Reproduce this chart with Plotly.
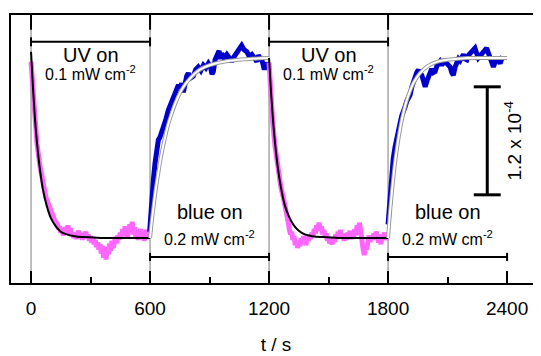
import plotly.graph_objects as go

# ---------------- data (absorbance change, units of 1e-4) ----------------
uv1_t = [0, 8, 18, 30, 45, 60, 75, 88, 98, 110, 120,
         132, 138, 144, 150, 156, 162, 168, 174, 180, 186, 192, 198, 204, 210, 216, 222, 228, 234,
         240, 246, 252, 258, 264, 270, 276, 282, 288, 294, 300, 306, 312, 318, 324, 330, 336, 342,
         348, 354, 360, 366, 372, 378, 384, 390, 396, 402, 408, 414, 420, 426, 432, 438, 444, 450,
         456, 462, 468, 474, 480, 486, 492, 498, 504, 510, 516, 522, 528, 534, 540, 546, 552, 558,
         564, 570, 576, 582, 588, 594, 600]
uv1_v = [1.96, 1.68, 1.35, 1.05, 0.80, 0.58, 0.45, 0.38, 0.32, 0.22, 0.19,
         0.16, 0.10, 0.13, 0.06, 0.09, 0.03, 0.08, 0.12, 0.05, 0.14,
         0.07, 0.11, 0.02, 0.06, 0.00, 0.05, -0.01, 0.04, 0.08, 0.01,
         0.05, -0.02, 0.06, 0.02, 0.07, 0.00, 0.04, -0.03, 0.02, -0.05,
         0.01, -0.07, -0.02, -0.10, -0.05, -0.13, -0.07, -0.17, -0.09, -0.22,
         -0.12, -0.24, -0.10, -0.18, -0.06, -0.14, -0.03, -0.11, -0.04, 0.01,
         -0.06, 0.03, -0.02, 0.06, 0.00, 0.10, 0.03, 0.13, 0.05, 0.00,
         0.09, 0.15, 0.07, 0.18, 0.04, 0.12, 0.01, 0.08, -0.02, 0.06,
         0.10, 0.00, 0.07, -0.03, 0.05, 0.09, 0.01, 0.06, 0.03]

fit_uv1_t = [0, 10, 20, 30, 45, 60, 80, 100, 125, 150, 180, 220, 270, 350, 450, 600]
fit_uv1_v = [2.07, 1.66, 1.32, 1.06, 0.76, 0.54, 0.35, 0.22, 0.13, 0.07, 0.04, 0.02, 0.01, 0.00, 0.00, 0.00]

blue1_t = [598, 608, 617, 625, 634, 642, 650, 658, 667, 680, 692, 705, 718, 730, 743, 752, 760, 768,
           777, 785, 793, 805, 818, 830, 843, 856, 869, 881, 894, 905, 912, 919, 928, 936, 948, 955,
           961, 974, 987, 1000, 1012, 1025, 1037, 1050, 1062, 1075, 1088, 1100, 1113, 1125, 1138,
           1146, 1155, 1165, 1176, 1185, 1190]
blue1_v = [0.07, 0.46, 0.65, 0.83, 0.98, 1.09, 1.12, 1.17, 1.20, 1.32, 1.42, 1.50, 1.57, 1.63, 1.70,
           1.66, 1.72, 1.62, 1.75, 1.80, 1.83, 1.78, 1.80, 1.87, 1.90, 1.86, 1.92, 1.89, 1.94, 1.90,
           1.82, 1.85, 1.98, 2.01, 2.08, 1.99, 2.05, 2.00, 2.04, 2.00, 1.96, 2.02, 2.05, 2.10, 2.14,
           2.09, 2.07, 2.02, 2.04, 2.00, 1.96, 2.03, 2.01, 1.97, 1.87, 1.95, 1.92]

fit_blue1_t = [600, 610, 620, 630, 640, 655, 670, 690, 710, 730, 760, 800, 850, 900, 1000, 1100, 1200]
fit_blue1_v = [0.00, 0.21, 0.39, 0.56, 0.70, 0.90, 1.06, 1.25, 1.39, 1.51, 1.65, 1.77, 1.87, 1.92, 1.97, 1.99, 2.00]

uv2_t = [1200, 1208, 1218, 1230, 1245, 1260, 1275, 1288, 1296,
         1302, 1308, 1314, 1320, 1326, 1332, 1338, 1344, 1350, 1356, 1362, 1368, 1374, 1380, 1386,
         1392, 1398, 1404, 1410, 1416, 1422, 1428, 1434, 1440, 1446, 1452, 1458, 1464, 1470, 1476,
         1482, 1488, 1494, 1500, 1506, 1512, 1518, 1524, 1530, 1536, 1542, 1548, 1554, 1560, 1566,
         1572, 1578, 1584, 1590, 1596, 1602, 1608, 1614, 1620, 1626, 1632, 1638, 1644, 1650, 1656,
         1662, 1668, 1674, 1680, 1686, 1692, 1698, 1704, 1710, 1716, 1722, 1728, 1734, 1740, 1746,
         1752, 1758, 1764, 1770, 1776, 1782, 1788, 1794, 1800]
uv2_v = [1.95, 1.62, 1.30, 1.02, 0.76, 0.56, 0.42, 0.30, 0.18,
         0.10, 0.04, 0.07, -0.02, 0.02, -0.08, -0.03, -0.11, -0.05, -0.09,
         0.00, -0.06, 0.02, -0.04, -0.08, 0.01, -0.03, 0.03, -0.01, 0.06,
         0.02, 0.10, 0.05, 0.14, 0.08, 0.17, 0.10, 0.13, 0.04, 0.09,
         0.02, 0.05, -0.03, 0.01, -0.06, -0.02, -0.07, 0.00, -0.04, 0.04,
         -0.01, 0.07, 0.02, 0.09, 0.00, 0.05, -0.03, 0.03, -0.02, 0.06,
         0.01, 0.08, -0.01, 0.04, 0.00, 0.10, 0.03, 0.14, 0.06, 0.17,
         0.04, -0.06, -0.12, -0.19, -0.08, -0.13, -0.02, 0.03, -0.04, 0.02,
         -0.02, 0.05, 0.00, 0.07, 0.02, -0.05, 0.01, -0.07, 0.04, 0.00,
         0.06, -0.02, 0.03, 0.01]

fit_uv2_t = [1200, 1210, 1220, 1230, 1245, 1260, 1280, 1300, 1325, 1350, 1380, 1420, 1470, 1550, 1650, 1800]
fit_uv2_v = [2.00, 1.62, 1.31, 1.06, 0.77, 0.56, 0.36, 0.24, 0.14, 0.08, 0.04, 0.02, 0.01, 0.00, 0.00, 0.00]

blue2_t = [1800, 1808, 1818, 1826, 1835, 1843, 1852, 1860, 1869, 1877, 1886, 1894, 1902, 1911, 1920,
           1928, 1936, 1945, 1953, 1961, 1970, 1978, 1987, 1995, 2003, 2012, 2020, 2029, 2037, 2046,
           2054, 2062, 2071, 2079, 2087, 2096, 2104, 2113, 2121, 2129, 2138, 2146, 2155, 2163, 2171,
           2180, 2188, 2197, 2205, 2213, 2222, 2230, 2238, 2247, 2255, 2263, 2272, 2280, 2289, 2297,
           2305, 2314, 2322, 2331, 2339, 2348, 2356, 2365, 2373, 2381]
blue2_v = [0.15, 0.40, 0.72, 0.88, 1.01, 1.12, 1.20, 1.27, 1.36, 1.40, 1.46, 1.52, 1.55, 1.59, 1.68,
           1.74, 1.79, 1.84, 1.87, 1.82, 1.81, 1.72, 1.68, 1.74, 1.80, 1.83, 1.88, 1.84, 1.85, 1.91,
           1.94, 1.96, 1.92, 1.97, 1.98, 1.94, 1.92, 1.90, 1.84, 1.81, 1.90, 1.96, 1.99, 1.97, 2.01,
           2.04, 1.99, 1.98, 2.03, 2.05, 2.07, 2.10, 2.11, 2.05, 2.00, 2.02, 2.04, 2.07, 2.09, 2.11,
           2.06, 2.01, 1.96, 1.90, 1.95, 2.00, 1.97, 1.94, 1.99, 1.98]

fit_blue2_t = [1800, 1810, 1820, 1830, 1840, 1855, 1870, 1890, 1910, 1930, 1960, 2000, 2050, 2100, 2200, 2300, 2400]
fit_blue2_v = [0.00, 0.29, 0.53, 0.74, 0.92, 1.14, 1.32, 1.50, 1.63, 1.73, 1.83, 1.91, 1.96, 1.98, 2.00, 2.00, 2.00]

x_ticks = [0, 600, 1200, 1800, 2400]
switch_times = [0, 600, 1200, 1800]
uv_periods = [(0, 600), (1200, 1800)]
blue_periods = [(600, 1200), (1800, 2400)]
uv_label = "UV on"
uv_power = "0.1 mW cm<sup>-2</sup>"
blue_label = "blue on"
blue_power = "0.2 mW cm<sup>-2</sup>"
scale_bar_len = 1.2
scale_bar_text = "1.2 x 10<sup>-4</sup>"

# ---------------- figure ----------------
FONT = "Liberation Sans, Arial, sans-serif"
MAGENTA = "#ff66ff"
BLUE = "#0000cc"

fig = go.Figure()

def add_line(t, v, color, width, shape="linear"):
    fig.add_trace(go.Scatter(x=t, y=v, mode="lines",
                             line=dict(color=color, width=width, shape=shape, smoothing=1.0),
                             hoverinfo="skip", showlegend=False))

add_line(uv1_t, uv1_v, MAGENTA, 5)
add_line(fit_uv1_t, fit_uv1_v, "black", 2, "spline")
add_line(blue1_t, blue1_v, BLUE, 5)
add_line(fit_blue1_t, fit_blue1_v, "#9a9a9a", 4, "spline")
add_line(fit_blue1_t, fit_blue1_v, "white", 2, "spline")
add_line(uv2_t, uv2_v, MAGENTA, 5)
add_line(fit_uv2_t, fit_uv2_v, "black", 2, "spline")
add_line(blue2_t, blue2_v, BLUE, 5)
add_line(fit_blue2_t, fit_blue2_v, "#9a9a9a", 4, "spline")
add_line(fit_blue2_t, fit_blue2_v, "white", 2, "spline")

shapes = []
for ts in switch_times:
    shapes.append(dict(type="line", xref="x", yref="paper", x0=ts, x1=ts, y0=0, y1=1,
                       line=dict(color="#a8a8a8", width=1.5), layer="below"))
    shapes.append(dict(type="line", xref="x", yref="paper", x0=ts, x1=ts, y0=0.945, y1=1,
                       line=dict(color="black", width=2)))

TOP_BR, TOP_CAP = 2.18, 0.05
BOT_BR, BOT_CAP = -0.21, 0.045
for a, b in uv_periods:
    shapes.append(dict(type="line", x0=a, x1=b, y0=TOP_BR, y1=TOP_BR, line=dict(color="black", width=2)))
    for e in (a, b):
        shapes.append(dict(type="line", x0=e, x1=e, y0=TOP_BR - TOP_CAP, y1=TOP_BR + TOP_CAP,
                           line=dict(color="black", width=2)))
for a, b in blue_periods:
    shapes.append(dict(type="line", x0=a, x1=b, y0=BOT_BR, y1=BOT_BR, line=dict(color="black", width=2)))
    for e in (a, b):
        shapes.append(dict(type="line", x0=e, x1=e, y0=BOT_BR - BOT_CAP, y1=BOT_BR + BOT_CAP,
                           line=dict(color="black", width=2)))

SB_X, SB_Y0, SB_HALF = 2300, 0.48, 68
shapes.append(dict(type="line", x0=SB_X, x1=SB_X, y0=SB_Y0, y1=SB_Y0 + scale_bar_len,
                   line=dict(color="black", width=3)))
for yy in (SB_Y0, SB_Y0 + scale_bar_len):
    shapes.append(dict(type="line", x0=SB_X - SB_HALF, x1=SB_X + SB_HALF, y0=yy, y1=yy,
                       line=dict(color="black", width=3)))

annotations = []
for a, b in uv_periods:
    m = (a + b) / 2
    annotations.append(dict(x=m, y=2.03, text=uv_label, showarrow=False,
                            font=dict(size=20, family=FONT, color="black")))
    annotations.append(dict(x=m, y=1.83, text=uv_power, showarrow=False,
                            font=dict(size=16, family=FONT, color="black")))
for a, b in blue_periods:
    m = (a + b) / 2
    annotations.append(dict(x=m, y=0.29, text=blue_label, showarrow=False,
                            font=dict(size=20, family=FONT, color="black")))
    annotations.append(dict(x=m, y=0.0, text=blue_power, showarrow=False,
                            font=dict(size=16, family=FONT, color="black")))
annotations.append(dict(x=2428, y=SB_Y0 + scale_bar_len / 2, text=scale_bar_text, showarrow=False,
                        textangle=-90, font=dict(size=19, family=FONT, color="black")))

# the page body has an 8px margin, so the figure is sized to end at the window edge
fig.update_layout(
    width=533, height=348,
    margin=dict(l=3, r=0, t=7, b=73),
    paper_bgcolor="white", plot_bgcolor="white",
    font=dict(family=FONT, color="black"),
    shapes=shapes, annotations=annotations,
    xaxis=dict(range=[-101, 2571], tickvals=x_ticks, ticktext=[str(v) for v in x_ticks],
               ticks="inside", ticklen=12, tickwidth=2, tickcolor="black",
               minor=dict(dtick=300, tick0=0, ticks="inside", ticklen=6, tickwidth=2, tickcolor="black"),
               showline=True, linecolor="black", linewidth=2, mirror=True,
               showgrid=False, zeroline=False, automargin=False,
               tickfont=dict(size=19, family=FONT, color="black"), ticklabelstandoff=7,
               title=dict(text="t / s", font=dict(size=19, family=FONT, color="black"), standoff=20)),
    yaxis=dict(range=[-0.5, 2.478], showticklabels=False, ticks="", showgrid=False,
               zeroline=False, showline=True, linecolor="black", linewidth=2, mirror=False,
               automargin=False),
)

fig.write_html("out.html")
